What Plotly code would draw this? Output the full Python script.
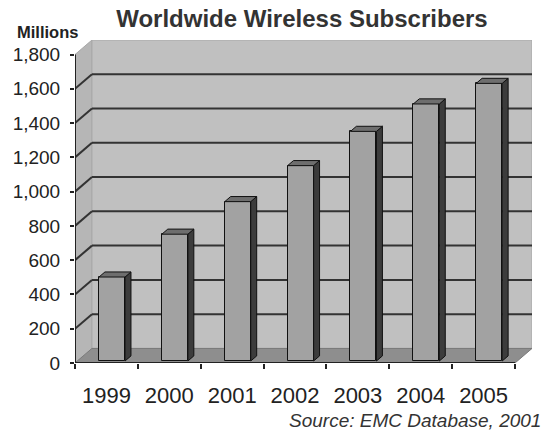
import plotly.graph_objects as go

# ---- data ----
years = ["1999", "2000", "2001", "2002", "2003", "2004", "2005"]
subscribers = [490, 740, 930, 1140, 1340, 1500, 1620]  # millions
y_ticks = [0, 200, 400, 600, 800, 1000, 1200, 1400, 1600, 1800]

# ---- pseudo-3D geometry (data units) ----
N = len(years)
YMAX = 1800
DX, DY = 0.27, 85.0          # back-wall offset
L, W = 0.382, 0.414          # front-face offset / width inside a category
D0, S = 0.1376, 0.35         # bar front depth, bar depth

FONT = "Arial, Liberation Sans, sans-serif"

fig = go.Figure()
shapes = []

# walls & floor
shapes.append(dict(type="path", xref="x", yref="y", layer="below",
                   path=f"M 0,0 L {DX},{DY} L {DX},{YMAX+DY} L 0,{YMAX} Z",
                   fillcolor="#b6b6b6", line=dict(color="#a8a8a8", width=1)))
shapes.append(dict(type="rect", xref="x", yref="y", layer="below",
                   x0=DX, x1=N + DX, y0=DY, y1=YMAX + DY,
                   fillcolor="#c0c0c0", line=dict(color="#a8a8a8", width=1)))
# gridlines
for v in y_ticks[1:-1]:
    shapes.append(dict(type="line", xref="x", yref="y", layer="below",
                       x0=DX, x1=N + DX, y0=v + DY, y1=v + DY,
                       line=dict(color="#333333", width=2)))
    shapes.append(dict(type="line", xref="x", yref="y", layer="below",
                       x0=0, x1=DX, y0=v, y1=v + DY,
                       line=dict(color="#333333", width=2)))
# floor
shapes.append(dict(type="path", xref="x", yref="y", layer="below",
                   path=f"M 0,0 L {N},0 L {N+DX},{DY} L {DX},{DY} Z",
                   fillcolor="#8e8e8e", line=dict(color="#7a7a7a", width=1)))
# axis lines
shapes.append(dict(type="line", xref="x", yref="y", layer="above",
                   x0=0, x1=0, y0=0, y1=YMAX, line=dict(color="#222222", width=2)))
shapes.append(dict(type="line", xref="x", yref="y", layer="above",
                   x0=0, x1=N, y0=0, y1=0, line=dict(color="#222222", width=2)))

base = D0 * DY
xc = [i + L + W / 2 for i in range(N)]

# bar side and top faces
for i, v in enumerate(subscribers):
    xr = i + L + W
    xl = i + L
    top = v + base
    fig.add_trace(go.Scatter(
        x=[xr, xr + S * DX, xr + S * DX, xr, xr],
        y=[base, base + S * DY, top + S * DY, top, base],
        mode="lines", fill="toself", fillcolor="#3c3c3c",
        line=dict(color="#111111", width=1), hoverinfo="skip", showlegend=False))
    fig.add_trace(go.Scatter(
        x=[xl, xr, xr + S * DX, xl + S * DX, xl],
        y=[top, top, top + S * DY, top + S * DY, top],
        mode="lines", fill="toself", fillcolor="#6e6e6e",
        line=dict(color="#111111", width=1), hoverinfo="skip", showlegend=False))

# bar front faces
fig.add_trace(go.Bar(x=xc, y=subscribers, base=base, width=W,
                     marker=dict(color="#a2a2a2", line=dict(color="#111111", width=1)),
                     showlegend=False, hoverinfo="skip"))

fig.update_layout(
    width=550, height=431, autosize=False,
    margin=dict(l=75, r=18, t=40, b=68),
    paper_bgcolor="white", plot_bgcolor="white",
    shapes=shapes,
    bargap=0,
    title=dict(text="<b>Worldwide Wireless Subscribers</b>", xref="container", yref="container",
               x=0.549, y=0.958, xanchor="center", yanchor="middle",
               font=dict(family=FONT, size=24, color="#333333")),
    xaxis=dict(range=[0, N + DX], showgrid=False, zeroline=False, showline=False,
               tickvals=[i + 0.5 for i in range(N)], ticktext=years, ticks="",
               tickfont=dict(family=FONT, size=22, color="#222222"),
               ticklabelstandoff=17,
               minor=dict(tickvals=list(range(N + 1)), ticks="outside", ticklen=5,
                          tickwidth=2, tickcolor="#222222")),
    yaxis=dict(range=[0, YMAX + DY + 0.001], showgrid=False, zeroline=False, showline=False,
               tickvals=y_ticks, tickformat=",d", ticks="outside", ticklen=4,
               tickwidth=2, tickcolor="#222222", ticklabelstandoff=6,
               tickfont=dict(family=FONT, size=19, color="#222222")),
    annotations=[
        dict(text="<b>Millions</b>", xref="paper", yref="paper",
             x=(15 - 75) / 457, y=(363 - 32) / 323, xanchor="left", yanchor="middle",
             showarrow=False, font=dict(family=FONT, size=16.5, color="#222222")),
        dict(text="<i>Source: EMC Database, 2001</i>", xref="paper", yref="paper",
             x=(543 - 75) / 457, y=(363 - 420) / 323, xanchor="right", yanchor="middle",
             showarrow=False, font=dict(family=FONT, size=19, color="#333333")),
    ],
)

fig.write_html("out.html")
